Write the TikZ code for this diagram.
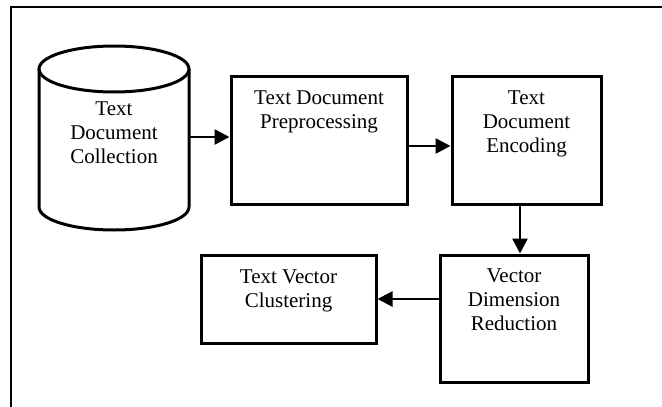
\documentclass[tikz,border=0pt]{standalone}
\usepackage{fontspec}
\setmainfont{Liberation Serif}
\usetikzlibrary{arrows.meta}

\begin{document}
\begin{tikzpicture}[x=1pt,y=-1pt,
    stepbox/.style={draw,line width=3pt,minimum width=#1,inner sep=0pt},
    lbl/.style={align=center,inner sep=0pt,anchor=north,font=\fontsize{21}{24}\selectfont},
    arr/.style={line width=2.7pt,-{Triangle[length=15pt,width=15pt]}}]
  \useasboundingbox (0,0) rectangle (662,407);

  % outer frame (top and left sides only)
  \draw[line width=2.5pt] (11,407) -- (11,7) -- (662,7);

  % collection: drawn cylinder
  \draw[line width=3pt] (39,69) -- (39,207)
    arc[start angle=180,end angle=0,x radius=75,y radius=23] -- (189,69);
  \draw[line width=3pt] (114,69) ellipse [x radius=75,y radius=23];
  \node[minimum width=150pt,minimum height=184pt,inner sep=0pt] (coll) at (114,138) {};
  \node[lbl] (colltext) at (114,102) {Text\\Document\\Collection};

  % processing steps
  \node[stepbox=176pt,minimum height=128pt] (pre) at (319,140) {};
  \node[stepbox=149pt,minimum height=128pt] (enc) at (526.5,140) {};
  \node[stepbox=148pt,minimum height=127pt] (vdr) at (514,318.5) {};
  \node[stepbox=175pt,minimum height=88pt] (tvc) at (288.5,299) {};

  \node[lbl] (pretext) at ([yshift=-16pt]pre.north) {Text Document\\Preprocessing};
  \node[lbl] (enctext) at ([yshift=-16pt]enc.north) {Text\\Document\\Encoding};
  \node[lbl] (vdrtext) at ([yshift=-15pt]vdr.north) {Vector\\Dimension\\Reduction};
  \node[lbl] (tvctext) at ([yshift=-16pt]tvc.north) {Text Vector\\Clustering};

  % arrows between the steps
  \draw[arr] ([yshift=1pt]coll.east) -- ([yshift=1pt]coll.east -| pre.west);
  \draw[arr] ([yshift=-6pt]pre.east) -- ([yshift=-6pt]pre.east -| enc.west);
  \draw[arr] ([xshift=-6.5pt]enc.south) -- ([xshift=-6.5pt]enc.south |- vdr.north);
  \draw[arr] (vdr.west |- tvc.east) -- (tvc.east);
\end{tikzpicture}
\end{document}
